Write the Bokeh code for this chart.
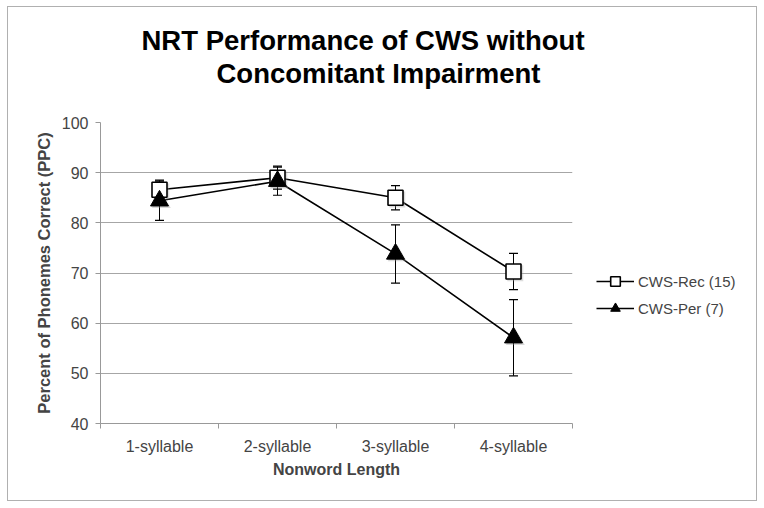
from bokeh.plotting import figure
from bokeh.layouts import row
from bokeh.models import (ColumnDataSource, Whisker, TeeHead, FixedTicker, Legend,
                          LegendItem, Title, Range1d)
from bokeh.transform import dodge
from bokeh.embed import file_html
from bokeh.resources import INLINE

categories = ["1-syllable", "2-syllable", "3-syllable", "4-syllable"]
x_pos = [1, 2, 3, 4]
rec_vals = [86.6, 89.0, 85.0, 70.3]
rec_err = [1.9, 2.3, 2.4, 3.6]
per_vals = [84.4, 88.3, 73.8, 57.1]
per_err = [3.9, 2.8, 5.8, 7.6]
y_ticks = [40, 50, 60, 70, 80, 90, 100]

FONT = "Liberation Sans"
GRID = "#a6a6a6"

p = figure(width=588, height=493, output_backend="svg", toolbar_location=None,
           x_range=Range1d(0.5, 4.5), y_range=Range1d(40, 100),
           min_border_left=92, min_border_right=24, min_border_top=115,
           min_border_bottom=77)
p.outline_line_color = None
p.background_fill_color = "white"
p.border_fill_color = "white"

# axes
p.xaxis.ticker = FixedTicker(ticks=x_pos, minor_ticks=[0.5, 1.5, 2.5, 3.5, 4.5])
p.xaxis.major_label_overrides = {x: c for x, c in zip(x_pos, categories)}
p.xaxis.major_tick_line_color = None
p.xaxis.minor_tick_out = 5
p.xaxis.minor_tick_in = 0
p.xaxis.minor_tick_line_color = "#999999"
p.xaxis.axis_line_color = "#999999"
p.xaxis.axis_label = "Nonword Length"
p.xaxis.axis_label_text_font = FONT
p.xaxis.axis_label_text_font_style = "bold"
p.xaxis.axis_label_text_font_size = "16px"
p.xaxis.axis_label_standoff = 3
p.xaxis.major_label_text_font = FONT
p.xaxis.major_label_text_font_size = "16px"
p.xaxis.major_label_standoff = 8
p.xgrid.grid_line_color = None

p.yaxis.ticker = FixedTicker(ticks=y_ticks, minor_ticks=[])
p.yaxis.major_tick_out = 5
p.yaxis.major_tick_in = 0
p.yaxis.major_tick_line_color = "#999999"
p.yaxis.axis_line_color = "#999999"
p.yaxis.axis_label = "Percent of Phonemes Correct (PPC)"
p.yaxis.axis_label_text_font = FONT
p.yaxis.axis_label_text_font_style = "bold"
p.yaxis.axis_label_text_font_size = "16.5px"
p.yaxis.axis_label_standoff = 6
p.yaxis.major_label_text_font = FONT
p.yaxis.major_label_text_font_size = "16px"
p.yaxis.major_label_standoff = 7
p.ygrid.grid_line_color = GRID
p.ygrid.grid_line_width = 1

rec_src = ColumnDataSource(dict(x=x_pos, y=rec_vals,
                                lo=[v - e for v, e in zip(rec_vals, rec_err)],
                                hi=[v + e for v, e in zip(rec_vals, rec_err)]))
per_src = ColumnDataSource(dict(x=x_pos, y=per_vals,
                                lo=[v - e for v, e in zip(per_vals, per_err)],
                                hi=[v + e for v, e in zip(per_vals, per_err)]))

for src in (rec_src, per_src):
    w = Whisker(base="x", upper="hi", lower="lo", source=src, dimension="height",
                line_color="black", line_width=1,
                upper_head=TeeHead(size=9, line_color="black", line_width=1.2),
                lower_head=TeeHead(size=9, line_color="black", line_width=1.2))
    p.add_layout(w)

p.line("x", "y", source=rec_src, line_color="black", line_width=1.6)
p.line("x", "y", source=per_src, line_color="black", line_width=1.6)

# soft shadows
p.scatter(dodge("x", 0.015), dodge("y", -0.35), source=rec_src, marker="square", size=16,
          fill_color="#9e9e9e", line_color=None, alpha=0.35)
p.scatter(dodge("x", 0.015), dodge("y", -0.35), source=per_src, marker="triangle", size=19,
          fill_color="#8e8e8e", line_color=None, alpha=0.35)

p.scatter("x", "y", source=rec_src, marker="square", size=15,
          fill_color="white", line_color="black", line_width=1.6)
p.scatter("x", "y", source=per_src, marker="triangle", size=18,
          fill_color="black", line_color="black", line_width=1)

# title: spacer next to the frame, then the two lines (added closest-first)
p.add_layout(Title(text=" ", text_font_size="2px", standoff=30), "above")
for txt, off in (("Concomitant Impairment", 116), ("NRT Performance of CWS without", 41)):
    p.add_layout(Title(text=txt, align="left", offset=off, text_font=FONT,
                       text_font_style="bold", text_font_size="27.5px",
                       text_color="black", standoff=0), "above")

# legend panel (same series styles, shown only as legend keys)
q = figure(width=160, height=493, output_backend="svg", toolbar_location=None,
           x_range=Range1d(0, 1), y_range=Range1d(0, 1), min_border=0,
           x_axis_type=None, y_axis_type=None)
q.grid.visible = False
q.outline_line_color = None
q.background_fill_color = "white"
q.border_fill_color = "white"
k_rec_line = q.line("x", "y", source=rec_src, line_color="black", line_width=1.6)
k_rec_pts = q.scatter("x", "y", source=rec_src, marker="square", size=15,
                      fill_color="white", line_color="black", line_width=1.6)
k_per_line = q.line("x", "y", source=per_src, line_color="black", line_width=1.6)
k_per_pts = q.scatter("x", "y", source=per_src, marker="triangle", size=18,
                      fill_color="black", line_color="black", line_width=1)

legend = Legend(items=[LegendItem(label="CWS-Rec (15)", renderers=[k_rec_line, k_rec_pts]),
                       LegendItem(label="CWS-Per (7)", renderers=[k_per_line, k_per_pts])],
                location=(0, 103), glyph_width=38, glyph_height=24, spacing=3,
                padding=0, margin=0, border_line_color=None, background_fill_alpha=0,
                label_text_font=FONT, label_text_font_size="15px", label_standoff=4)
q.add_layout(legend, "center")

layout = row(p, q, spacing=0)
layout.styles = {"border": "1px solid #b0b0b0", "margin-left": "7px", "margin-top": "6px",
                 "background-color": "white"}

open("out.html", "w").write(file_html(layout, INLINE))
